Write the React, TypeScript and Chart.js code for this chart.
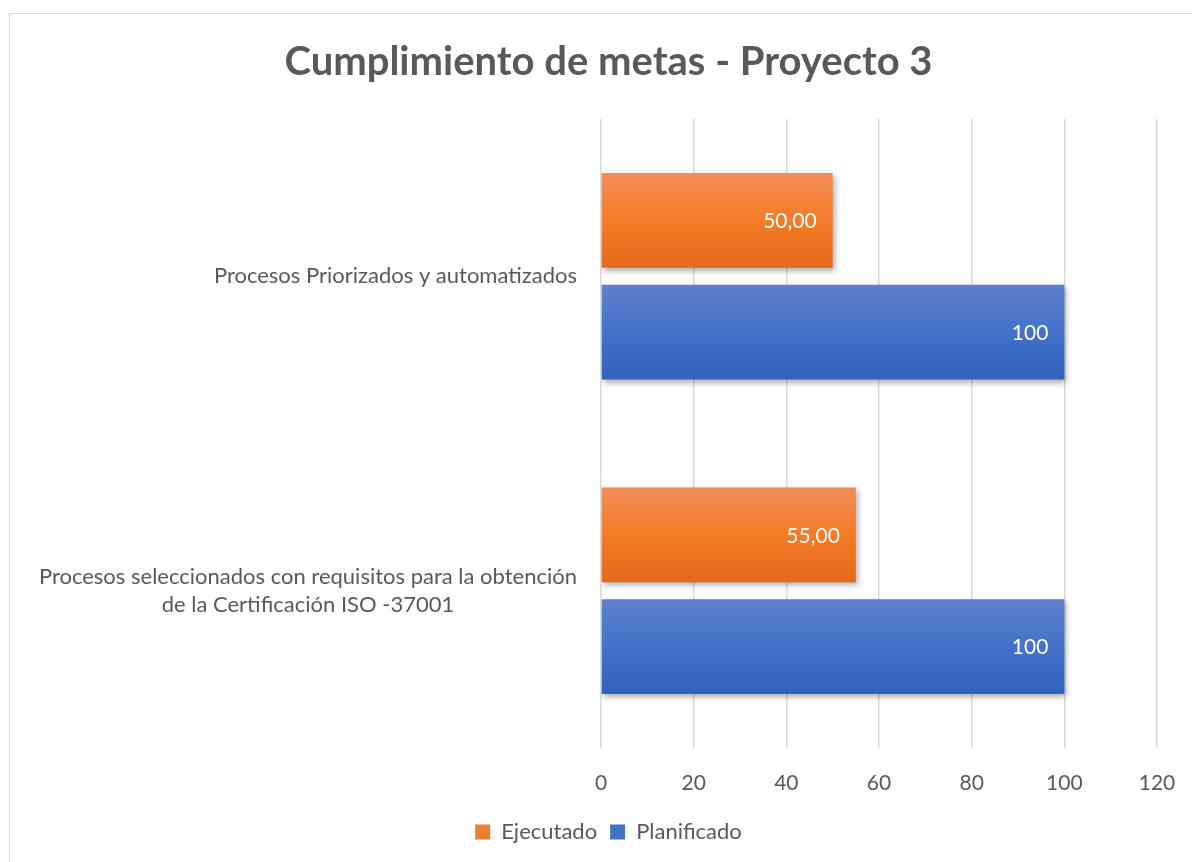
import React, { useEffect, useRef } from 'react';
import { Chart, registerables } from 'chart.js';

Chart.register(...registerables);

const categories: string[][] = [
  ['Procesos Priorizados y automatizados'],
  ['Procesos seleccionados con requisitos para la obtención', 'de la Certificación ISO -37001'],
];
const seriesNames = ['Ejecutado', 'Planificado'];
const ejecutado = [50, 55];
const planificado = [100, 100];
const labelDecimals = [2, 0];
const xMin = 0;
const xMax = 120;
const xStep = 20;

const TEXT = '#595959';
const FONT = 'Lato, "Open Sans", sans-serif';
const solidColors = ['#ED7D31', '#4472C4'];
const gradStops = [
  ['#F08D57', '#F47B27', '#E4691A'],
  ['#5E81CA', '#4472CB', '#3061BC'],
];

const barStylePlugin = {
  id: 'barStyle',
  beforeDatasetsDraw(chart: any) {
    const ctx = chart.ctx;
    chart.data.datasets.forEach((ds: any, di: number) => {
      const meta = chart.getDatasetMeta(di);
      meta.data.forEach((el: any) => {
        const { y, height } = el.getProps(['y', 'height'], true);
        const g = ctx.createLinearGradient(0, y - height / 2, 0, y + height / 2);
        const s = gradStops[di];
        g.addColorStop(0, s[0]);
        g.addColorStop(0.5, s[1]);
        g.addColorStop(1, s[2]);
        el.options = Object.assign({}, el.options, { backgroundColor: g });
      });
    });
    ctx.save();
    ctx.shadowColor = 'rgba(0,0,0,0.32)';
    ctx.shadowBlur = 6;
    ctx.shadowOffsetX = 2;
    ctx.shadowOffsetY = 3;
  },
  afterDatasetsDraw(chart: any) {
    const ctx = chart.ctx;
    ctx.restore();
    ctx.save();
    ctx.font = `21px ${FONT}`;
    ctx.fillStyle = '#FFFFFF';
    ctx.textAlign = 'right';
    ctx.textBaseline = 'middle';
    chart.data.datasets.forEach((ds: any, di: number) => {
      const meta = chart.getDatasetMeta(di);
      meta.data.forEach((el: any, i: number) => {
        const v = ds.data[i];
        const txt = v.toFixed(labelDecimals[di]).replace('.', ',');
        const { x, y } = el.getProps(['x', 'y'], true);
        ctx.fillText(txt, x - 16, y + 1);
      });
    });
    ctx.restore();
  },
};

const categoryLabelPlugin = {
  id: 'categoryLabels',
  afterDraw(chart: any) {
    const ctx = chart.ctx;
    const yScale = chart.scales.y;
    ctx.save();
    ctx.font = `22px ${FONT}`;
    ctx.fillStyle = TEXT;
    ctx.textAlign = 'center';
    ctx.textBaseline = 'middle';
    const rightX = yScale.right - 24;
    const lineH = 28;
    categories.forEach((lines, i) => {
      const cy = yScale.getPixelForValue(i);
      const w = Math.max(...lines.map((l) => ctx.measureText(l).width));
      const cx = rightX - w / 2;
      const startY = cy - ((lines.length - 1) * lineH) / 2;
      lines.forEach((l, k) => ctx.fillText(l, cx, startY + k * lineH));
    });
    ctx.restore();
  },
};

export default function App() {
  const ref = useRef<HTMLCanvasElement | null>(null);
  useEffect(() => {
    if (!ref.current) return;
    const chart = new Chart(ref.current, {
      type: 'bar',
      data: {
        labels: categories.map((c) => c.join(' ')),
        datasets: [
          { label: seriesNames[0], data: ejecutado, backgroundColor: solidColors[0], borderWidth: 0 },
          { label: seriesNames[1], data: planificado, backgroundColor: solidColors[1], borderWidth: 0 },
        ],
      },
      options: {
        indexAxis: 'y',
        responsive: false,
        animation: false,
        devicePixelRatio: 1,
        categoryPercentage: 0.711,
        barPercentage: 0.848,
        layout: { padding: { left: 50, right: 35, top: 0, bottom: 9 } },
        scales: {
          x: {
            min: xMin,
            max: xMax,
            ticks: { stepSize: xStep, color: TEXT, font: { family: FONT, size: 21 }, padding: 23 },
            grid: { color: '#D9D9D9', lineWidth: 1.5, drawTicks: false },
            border: { display: false },
            afterFit: (s: any) => {
              s.height = 60;
              s.paddingLeft = 0;
              s.paddingRight = 0;
            },
          },
          y: {
            ticks: { display: false },
            grid: { display: false },
            border: { display: false },
            afterFit: (s: any) => { s.width = 541; },
          },
        },
        plugins: {
          title: {
            display: true,
            text: 'Cumplimiento de metas - Proyecto 3',
            color: TEXT,
            font: { family: FONT, size: 40, weight: 'bold' },
            padding: { top: 24, bottom: 33 },
          },
          legend: {
            position: 'bottom',
            labels: {
              color: TEXT,
              font: { family: FONT, size: 22 },
              boxWidth: 15,
              boxHeight: 15,
              padding: 13,
            },
          },
          tooltip: { enabled: false },
        },
      },
      plugins: [barStylePlugin, categoryLabelPlugin],
    });
    return () => chart.destroy();
  }, []);
  return (
    <div
      style={{
        position: 'fixed',
        left: 9,
        top: 13,
        width: 1200,
        height: 870,
        border: '1px solid #D9D9D9',
        background: '#FFFFFF',
        overflow: 'hidden',
      }}
    >
      <canvas ref={ref} width={1182} height={848} style={{ display: 'block', width: 1182, height: 848 }} />
    </div>
  );
}
